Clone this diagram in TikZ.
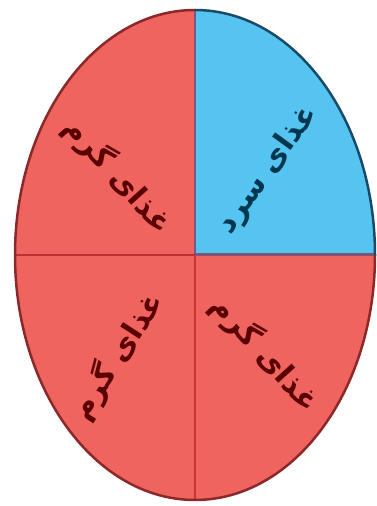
\documentclass[tikz,border=0pt]{standalone}
\usepackage{fontspec}
\newfontfamily\arabicfont[Script=Arabic]{DejaVu Sans}
\TeXXeTstate=1
\usetikzlibrary{positioning}
\definecolor{hotred}{RGB}{239,100,95}
\definecolor{coldblue}{RGB}{85,196,240}
\definecolor{hotline}{RGB}{140,40,40}
\definecolor{coldline}{RGB}{25,75,105}
\definecolor{hottext}{RGB}{90,0,0}
\definecolor{coldtext}{RGB}{0,55,80}
\tikzset{
  hot/.style={fill=hotred},
  cold/.style={fill=coldblue},
  hotlabel/.style={text=hottext, font=\arabicfont\bfseries\fontsize{30}{33}\selectfont},
  coldlabel/.style={text=coldtext, font=\arabicfont\bfseries\fontsize{30}{33}\selectfont}
}
\begin{document}
\begin{tikzpicture}[x=1pt,y=1pt]
\useasboundingbox (0,0) rectangle (377,506);
\coordinate (c) at (195,251);
% quadrants
\fill[cold] (c) -- ++(180,0) arc[start angle=0, end angle=90, x radius=180, y radius=245] -- cycle;
\fill[hot] (c) -- ++(0,245) arc[start angle=90, end angle=180, x radius=180, y radius=245] -- cycle;
\fill[hot] (c) -- ++(-180,0) arc[start angle=180, end angle=270, x radius=180, y radius=245] -- cycle;
\fill[hot] (c) -- ++(0,-245) arc[start angle=270, end angle=360, x radius=180, y radius=245] -- cycle;

% dividers
\coordinate (top) at (195,496);
\coordinate (bot) at (195,6);
\coordinate (lft) at (15,251);
\coordinate (rgt) at (375,251);
\draw[line width=2.5pt, color={rgb,255:red,110;green,90;blue,140}] (c) -- (top);
\draw[line width=2pt, color={rgb,255:red,200;green,55;blue,55}] (c) -- (bot);
\draw[line width=2.5pt, color={rgb,255:red,185;green,50;blue,50}] (c) -- (lft);
\draw[line width=3pt, color={rgb,255:red,125;green,85;blue,120}] (c) -- (rgt);

% outline
\draw[line width=2.5pt, hotline] (rgt) arc[start angle=0, end angle=-270, x radius=180, y radius=245];
\draw[line width=2.5pt, coldline] (rgt) arc[start angle=0, end angle=90, x radius=180, y radius=245];

% labels
\node[coldlabel, rotate=54] (cold) at (268,336) {\beginR غذای سرد\endR};
\node[hotlabel, rotate=-48] (hotTL) at (118,331) {\beginR غذای گرم\endR};
\node[hotlabel, rotate=57] (hotBL) at (117,150) {\beginR غذای گرم\endR};
\node[hotlabel, rotate=-48] (hotBR) at (265,153) {\beginR غذای گرم\endR};
\end{tikzpicture}
\end{document}
